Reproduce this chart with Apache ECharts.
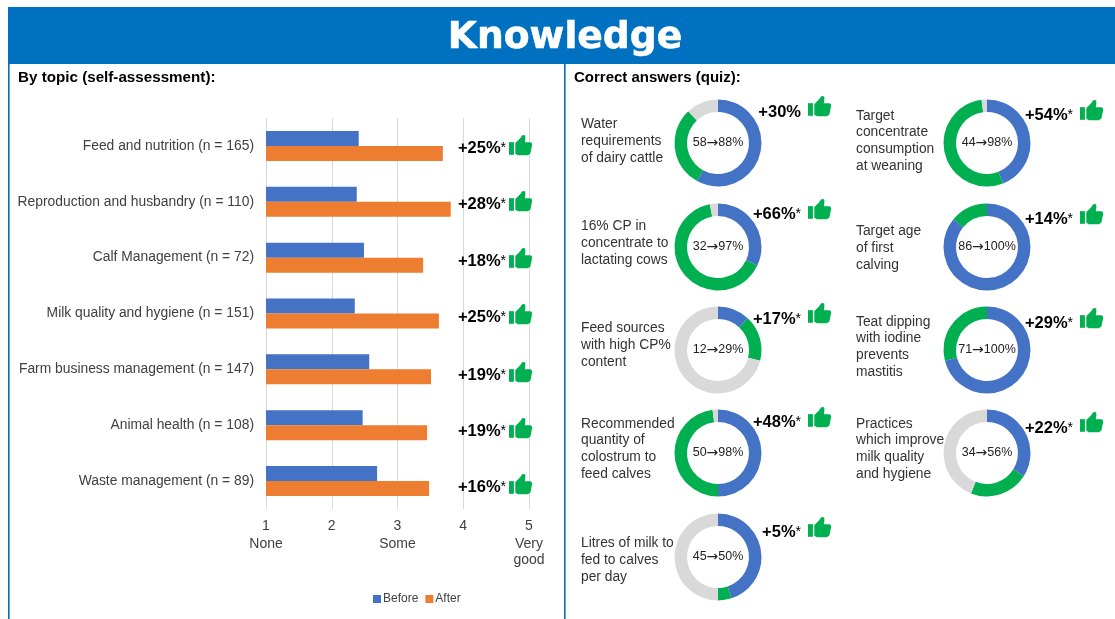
<!DOCTYPE html>
<html><head><meta charset="utf-8">
<style>html,body{margin:0;padding:0;background:#fff}#c{width:1115px;height:619px}</style>
<script src="https://cdn.jsdelivr.net/npm/echarts@6/dist/echarts.min.js"></script>
</head><body><div id="c"></div>
<script>
const topics = ['Feed and nutrition (n = 165)','Reproduction and husbandry (n = 110)','Calf Management (n = 72)','Milk quality and hygiene (n = 151)','Farm business management (n = 147)','Animal health (n = 108)','Waste management (n = 89)'];
const beforeScores = [2.41,2.38,2.49,2.35,2.57,2.47,2.69];
const afterScores = [3.69,3.81,3.39,3.63,3.51,3.45,3.48];
const topicGains = ['+25%','+28%','+18%','+25%','+19%','+19%','+16%'];
const axisTickLabels = {1:'None',3:'Some',5:'Very\ngood'};

const quizNames = ['Water\nrequirements\nof dairy cattle','16% CP in\nconcentrate to\nlactating cows','Feed sources\nwith high CP%\ncontent','Recommended\nquantity of\ncolostrum to\nfeed calves','Litres of milk to\nfed to calves\nper day','Target\nconcentrate\nconsumption\nat weaning','Target age\nof first\ncalving','Teat dipping\nwith iodine\nprevents\nmastitis','Practices\nwhich improve\nmilk quality\nand hygiene'];
const quizBefore = [58,32,12,50,45,44,86,71,34];
const quizAfter = [88,97,29,98,50,98,100,100,56];
const quizGains = ['+30%','+66%','+17%','+48%','+5%','+54%','+14%','+29%','+22%'];
const quizStars = [false,true,true,true,true,true,true,true,true];

// layout only
const FONT = '"Liberation Sans", Arial, sans-serif';
const BLUE = '#4472C4', ORANGE = '#ED7D31', GREEN = '#00B050', GREY = '#D9D9D9', FRAME = '#0070C0';
const HAND = [[6,7.3],[9,4.5],[11,2.5],[12.3,0.4],[13.8,0],[15.5,0.4],[15.6,3],[15.1,6.5],[20.5,6.7],[21.8,7.6],[22,9.2],[20.4,16.8],[18,18.5],[8.5,18.5],[6,17]];
const topicLabelY = [148,204,261,317,375,431,487];
const quizCx = [718,718,718,718,718,987,987,987,987];
const quizCy = [143,247,350,453,557,143,247,350,453];
const quizTextX = [581,581,581,581,581,856,856,856,856];
const quizTextY = [141,243,345,449,560,141,248,347,449];
const quizGainRight = [801,801,801,801,801,1073,1073,1073,1073];
const quizGainY = [112,214,319,422,532,115,219,323,428];
const quizThumbX = [808,808,808,808,808,1080,1080,1080,1080];
const quizThumbY = [96,199,303,407,517,100,204,308,412];

function gainText(x, y, txt, star){
  return {type:'text', x, y, z:20, style:{
    text: star ? `{b|${txt}}{s|*}` : `{b|${txt}}`, align:'right', verticalAlign:'middle',
    rich:{b:{font:`bold 16.5px ${FONT}`,fill:'#000'}, s:{font:`14px ${FONT}`,fill:'#000'}}
  }};
}
function thumb(x, y){
  return {type:'group', x, y, scaleX:1.05, scaleY:1.1, z:20, children:[
    {type:'rect', z:20, shape:{x:0,y:6.5,width:4.7,height:11.5}, style:{fill:GREEN}},
    {type:'polygon', z:20, shape:{points:HAND}, style:{fill:GREEN}}
  ]};
}

const graphics = [
  {type:'rect', z:1, shape:{x:8,y:7,width:1107,height:57}, style:{fill:FRAME}},
  {type:'rect', z:1, shape:{x:8,y:64,width:1.6,height:555}, style:{fill:FRAME}},
  {type:'rect', z:1, shape:{x:564,y:64,width:1.6,height:555}, style:{fill:FRAME}},
  {type:'text', x:565, y:38, scaleX:0.99, z:5, style:{text:'Knowledge', align:'center', verticalAlign:'middle', font:'bold 38px "DejaVu Sans", sans-serif', fill:'#fff', stroke:'#fff', lineWidth:0.6}},
  {type:'text', x:18, y:78, z:5, style:{text:'By topic (self-assessment):', verticalAlign:'middle', font:`bold 15.2px ${FONT}`, fill:'#000'}},
  {type:'text', x:574, y:78, z:5, style:{text:'Correct answers (quiz):', verticalAlign:'middle', font:`bold 15px ${FONT}`, fill:'#000'}}
];
topicGains.forEach((g,i)=>{
  graphics.push(gainText(506, topicLabelY[i], g, true));
  graphics.push(thumb(509, topicLabelY[i]-13));
});
quizNames.forEach((n,i)=>{
  graphics.push({type:'text', x:quizTextX[i], y:quizTextY[i], z:5, style:{text:n, align:'left', verticalAlign:'middle', font:`13.8px ${FONT}`, lineHeight:16.7, fill:'#333'}});
  graphics.push({type:'text', x:quizCx[i], y:quizCy[i], z:5, style:{
    text:`{t|${quizBefore[i]}}{a|→}{t|${quizAfter[i]}%}`, align:'center', verticalAlign:'middle',
    rich:{t:{font:`12.5px ${FONT}`, fill:'#222'}, a:{font:'14px "DejaVu Sans", sans-serif', fill:'#222'}}
  }});
  graphics.push(gainText(quizGainRight[i], quizGainY[i], quizGains[i], quizStars[i]));
  graphics.push(thumb(quizThumbX[i], quizThumbY[i]));
});

const pies = quizNames.map((n,i)=>({
  type:'pie', center:[quizCx[i],quizCy[i]], radius:[31,43.5], startAngle:90, clockwise:true, silent:true,
  label:{show:false}, labelLine:{show:false}, emphasis:{disabled:true}, animation:false,
  data:[
    {value:quizBefore[i], name:'before', itemStyle:{color:BLUE}},
    {value:quizAfter[i]-quizBefore[i], name:'gain', itemStyle:{color:GREEN}},
    {value:100-quizAfter[i], name:'rest', itemStyle:{color:GREY}}
  ]
}));

const chart = echarts.init(document.getElementById('c'), null, {renderer:'canvas'});
chart.setOption({
  animation:false,
  backgroundColor:'#fff',
  textStyle:{fontFamily:FONT},
  grid:{left:266, width:263, top:118, height:391},
  legend:{left:368, top:588, selectedMode:false, icon:'rect', itemWidth:8, itemHeight:8, itemGap:7, data:['Before','After'],
    textStyle:{fontSize:12, color:'#404040', padding:[0,0,0,-3]}},
  xAxis:{type:'value', min:1, max:5, interval:1,
    axisLine:{show:false}, axisTick:{show:false},
    splitLine:{show:true, lineStyle:{color:'#D9D9D9', width:1}},
    axisLabel:{margin:8, color:'#404040', align:'center', verticalAlign:'top',
      formatter:v=> axisTickLabels[v] ? `{n|${v}}\n{w|${axisTickLabels[v]}}` : `{n|${v}}`,
      rich:{n:{fontSize:14, lineHeight:19, color:'#404040', fontFamily:FONT}, w:{fontSize:14, lineHeight:16, color:'#404040', fontFamily:FONT}}}
  },
  yAxis:{type:'category', inverse:true, data:topics,
    axisLine:{show:false}, axisTick:{show:false}, splitLine:{show:false},
    axisLabel:{margin:12, fontSize:13.85, color:'#404040', fontFamily:FONT}},
  graphic:graphics,
  series:[
    {name:'Before', type:'bar', data:beforeScores, barWidth:15, barGap:0, itemStyle:{color:BLUE}, silent:true},
    {name:'After', type:'bar', data:afterScores, barWidth:15, barGap:0, itemStyle:{color:ORANGE}, silent:true},
    ...pies
  ]
});
</script></body></html>
